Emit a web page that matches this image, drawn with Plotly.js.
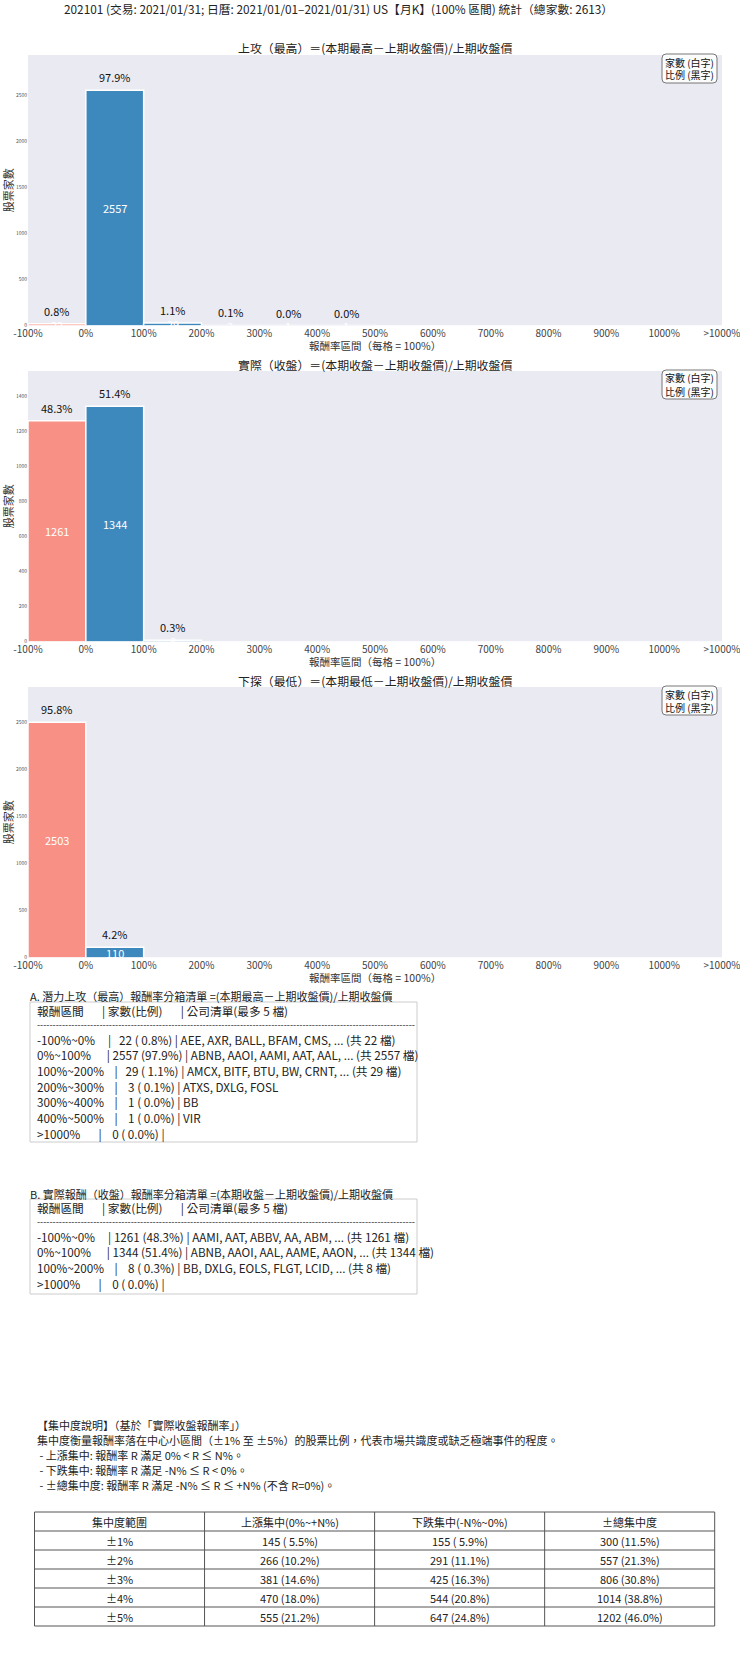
<!DOCTYPE html>
<html><head><meta charset="utf-8">
<script src="https://cdn.plot.ly/plotly-3.0.1.min.js"></script>
<style>body{margin:0;padding:0;background:#fff}#chart{width:740px;height:1655px}</style>
</head><body><div id="chart"></div>
<script>
// ---------------- DATA ----------------
const TOTAL = 2613;
const mainTitle = '202101 (交易: 2021/01/31; 日曆: 2021/01/01–2021/01/31) US【月K】(100% 區間) 統計（總家數: 2613）';
const binLabels = ['-100%','0%','100%','200%','300%','400%','500%','600%','700%','800%','900%','1000%','>1000%'];
const highCounts  = [22, 2557, 29, 3, 1, 1, 0, 0, 0, 0, 0, 0];
const closeCounts = [1261, 1344, 8, 0, 0, 0, 0, 0, 0, 0, 0, 0];
const lowCounts   = [2503, 110, 0, 0, 0, 0, 0, 0, 0, 0, 0, 0];
const chartTitles = [
  '上攻（最高）＝(本期最高－上期收盤價)/上期收盤價',
  '實際（收盤）＝(本期收盤－上期收盤價)/上期收盤價',
  '下探（最低）＝(本期最低－上期收盤價)/上期收盤價'
];
const xTitle = '報酬率區間（每格 = 100%）';
const yTitle = '股票家數';
const legendText = ['家數 (白字)', '比例 (黑字)'];

const listATitle = 'A. 潛力上攻（最高）報酬率分箱清單 =(本期最高－上期收盤價)/上期收盤價';
const listALines = [
  '報酬區間       | 家數(比例)       | 公司清單(最多 5 檔)',
  '-100%~0%     |   22 ( 0.8%) | AEE, AXR, BALL, BFAM, CMS, ... (共 22 檔)',
  '0%~100%      | 2557 (97.9%) | ABNB, AAOI, AAMI, AAT, AAL, ... (共 2557 檔)',
  '100%~200%    |   29 ( 1.1%) | AMCX, BITF, BTU, BW, CRNT, ... (共 29 檔)',
  '200%~300%    |    3 ( 0.1%) | ATXS, DXLG, FOSL',
  '300%~400%    |    1 ( 0.0%) | BB',
  '400%~500%    |    1 ( 0.0%) | VIR',
  '>1000%       |    0 ( 0.0%) |'
];
const listBTitle = 'B. 實際報酬（收盤）報酬率分箱清單 =(本期收盤－上期收盤價)/上期收盤價';
const listBLines = [
  '報酬區間       | 家數(比例)       | 公司清單(最多 5 檔)',
  '-100%~0%     | 1261 (48.3%) | AAMI, AAT, ABBV, AA, ABM, ... (共 1261 檔)',
  '0%~100%      | 1344 (51.4%) | ABNB, AAOI, AAL, AAME, AAON, ... (共 1344 檔)',
  '100%~200%    |    8 ( 0.3%) | BB, DXLG, EOLS, FLGT, LCID, ... (共 8 檔)',
  '>1000%       |    0 ( 0.0%) |'
];
const concText = [
  '【集中度說明】（基於「實際收盤報酬率」）',
  '集中度衡量報酬率落在中心小區間（±1% 至 ±5%）的股票比例，代表市場共識度或缺乏極端事件的程度。',
  ' - 上漲集中: 報酬率 R 滿足 0% < R ≤ N%。',
  ' - 下跌集中: 報酬率 R 滿足 -N% ≤ R < 0%。',
  ' - ±總集中度: 報酬率 R 滿足 -N% ≤ R ≤ +N% (不含 R=0%)。'
];
const concHeaders = ['集中度範圍', '上漲集中(0%~+N%)', '下跌集中(-N%~0%)', '±總集中度'];
const concRanges = ['±1%', '±2%', '±3%', '±4%', '±5%'];
const upCounts = [145, 266, 381, 470, 555];
const upPct = [5.5, 10.2, 14.6, 18.0, 21.2];
const downCounts = [155, 291, 425, 544, 647];
const downPct = [5.9, 11.1, 16.3, 20.8, 24.8];
const totCounts = [300, 557, 806, 1014, 1202];
const totPct = [11.5, 21.3, 30.8, 38.8, 46.0];

// ---------------- LAYOUT HELPERS ----------------
const W = 740, H = 1655;
const FONT = '"Noto Sans CJK TC", "Noto Sans", sans-serif';
const px = x => x / W;
const py = y => 1 - y / H;
const BLUE = 'rgba(31,119,180,0.85)';
const SALMON = 'rgba(250,128,114,0.85)';

const plotLeft = 28, plotRight = 722, plotH = 270.7;
const plotTops = [55, 371, 687];
const datasets = [highCounts, closeCounts, lowCounts];
const yDtick = [500, 200, 500];

const traces = [];
const annotations = [];
const shapes = [];
const layout = {
  width: W, height: H, margin: {l: 0, r: 0, t: 0, b: 0},
  paper_bgcolor: '#fff', plot_bgcolor: '#EAEAF2',
  showlegend: false, font: {family: FONT, color: '#222'},
  annotations, shapes
};

annotations.push({text: mainTitle, xref: 'paper', yref: 'paper', x: px(338), y: py(9),
  xanchor: 'center', yanchor: 'middle', showarrow: false, font: {size: 11.8, color: '#222'}});

datasets.forEach((counts, k) => {
  const idx = k === 0 ? '' : String(k + 1);
  const xa = 'x' + idx, ya = 'y' + idx;
  const top = plotTops[k], bottom = top + plotH;
  const maxV = Math.max(...counts);
  const yMax = maxV * 1.15;
  const centers = counts.map((_, i) => i + 0.5);
  traces.push({
    type: 'bar', x: centers, y: counts, width: 1, xaxis: xa, yaxis: ya,
    marker: {color: counts.map((_, i) => i === 0 ? SALMON : BLUE), line: {color: '#fff', width: 1.5}},
    hoverinfo: 'skip'
  });
  const ticks = [];
  for (let v = 0; v <= yMax; v += yDtick[k]) ticks.push(v);
  layout['xaxis' + idx] = {
    domain: [px(plotLeft), px(plotRight)], range: [0, 12], anchor: ya,
    tickvals: binLabels.map((_, i) => i), ticktext: binLabels, ticklabeloverflow: 'allow',
    tickfont: {size: 10, color: '#444'}, showgrid: false, zeroline: false, showline: false, ticks: ''
  };
  layout['yaxis' + idx] = {
    domain: [py(bottom), py(top)], range: [0, yMax], anchor: xa,
    tickvals: ticks, tickfont: {size: 5, color: '#555'},
    showgrid: false, zeroline: false, showline: false, ticks: ''
  };
  counts.forEach((c, i) => {
    if (c <= 0) return;
    annotations.push({text: (c / TOTAL * 100).toFixed(1) + '%', xref: xa, yref: ya, x: i + 0.5, y: c,
      yanchor: 'bottom', yshift: 3, showarrow: false, font: {size: 11, color: '#111'}});
    annotations.push({text: String(c), xref: xa, yref: ya, x: i + 0.5, y: c / 2,
      yanchor: 'middle', showarrow: false, font: {size: 11, color: '#fff'}});
  });
  annotations.push({text: chartTitles[k], xref: 'paper', yref: 'paper', x: px((plotLeft + plotRight) / 2), y: py(top - 7),
    xanchor: 'center', yanchor: 'middle', showarrow: false, font: {size: 11.9, color: '#222'}});
  annotations.push({text: xTitle, xref: 'paper', yref: 'paper', x: px((plotLeft + plotRight) / 2), y: py(bottom + 19.5),
    xanchor: 'center', yanchor: 'middle', showarrow: false, font: {size: 10.5, color: '#333'}});
  annotations.push({text: yTitle, xref: 'paper', yref: 'paper', x: px(8), y: py(top + plotH / 2),
    xanchor: 'center', yanchor: 'middle', textangle: -90, showarrow: false, font: {size: 11, color: '#333'}});
  // legend box (rounded)
  const bx0 = 662, bx1 = 717, by0 = top - 1, by1 = top + 28, r = 4;
  const X = v => px(v), Y = v => py(v);
  shapes.push({type: 'path', xref: 'paper', yref: 'paper',
    path: `M ${X(bx0 + r)} ${Y(by0)} L ${X(bx1 - r)} ${Y(by0)} Q ${X(bx1)} ${Y(by0)} ${X(bx1)} ${Y(by0 + r)} L ${X(bx1)} ${Y(by1 - r)} Q ${X(bx1)} ${Y(by1)} ${X(bx1 - r)} ${Y(by1)} L ${X(bx0 + r)} ${Y(by1)} Q ${X(bx0)} ${Y(by1)} ${X(bx0)} ${Y(by1 - r)} L ${X(bx0)} ${Y(by0 + r)} Q ${X(bx0)} ${Y(by0)} ${X(bx0 + r)} ${Y(by0)} Z`,
    line: {color: '#777', width: 1}, fillcolor: 'rgba(255,255,255,0.85)'});
  legendText.forEach((t, j) => {
    annotations.push({text: t, xref: 'paper', yref: 'paper', x: px((bx0 + bx1) / 2), y: py(top + 7 + j * 13),
      xanchor: 'center', yanchor: 'middle', showarrow: false, font: {size: 10, color: '#111'}});
  });
});

// ---------------- TEXT LISTS ----------------
function addText(t, x, y, size, color) {
  annotations.push({text: t, xref: 'paper', yref: 'paper', x: px(x), y: py(y),
    xanchor: 'left', yanchor: 'middle', showarrow: false, align: 'left',
    font: {size: size || 11, color: color || '#222'}});
}
function listBlock(title, lines, titleY, boxTop, boxBottom) {
  addText(title, 28, titleY, 11);
  shapes.push({type: 'rect', xref: 'paper', yref: 'paper', x0: px(30), x1: px(417), y0: py(boxTop), y1: py(boxBottom),
    line: {color: '#cccccc', width: 1}, fillcolor: 'rgba(0,0,0,0)'});
  addText(lines[0].replace(/ /g, '&nbsp;'), 35, boxTop + 9, 11.7);
  addText('-'.repeat(121), 35, boxTop + 22, 9);
  for (let i = 1; i < lines.length; i++) {
    addText(lines[i].replace(/ /g, '&nbsp;'), 35, boxTop + 22 + i * 15.65, 11.7);
  }
}
listBlock(listATitle, listALines, 996, 1002, 1142);
listBlock(listBTitle, listBLines, 1194, 1199, 1294);

concText.forEach((t, i) => addText(t.replace(/ /g, '&nbsp;'), 35, 1425 + i * 15, 11));

// ---------------- TABLE ----------------
const tL = 34.5, tR = 714.7, tTop = 1512, rowH = 19.0;
const colW = (tR - tL) / 4;
const rows = [concHeaders];
const fmt = (n, p) => `${n} (${p < 10 ? '&nbsp;' : ''}${p.toFixed(1)}%)`;
concRanges.forEach((r, i) => rows.push([r, fmt(upCounts[i], upPct[i]), fmt(downCounts[i], downPct[i]), fmt(totCounts[i], totPct[i])]));
const tBottom = tTop + rowH * rows.length;
shapes.push({type: 'rect', xref: 'paper', yref: 'paper', x0: px(tL), x1: px(tR), y0: py(tBottom), y1: py(tTop),
  line: {color: '#555', width: 1}});
for (let i = 1; i < rows.length; i++) {
  shapes.push({type: 'line', xref: 'paper', yref: 'paper', x0: px(tL), x1: px(tR), y0: py(tTop + i * rowH), y1: py(tTop + i * rowH),
    line: {color: '#555', width: 1}});
}
for (let j = 1; j < 4; j++) {
  shapes.push({type: 'line', xref: 'paper', yref: 'paper', x0: px(tL + j * colW), x1: px(tL + j * colW), y0: py(tBottom), y1: py(tTop),
    line: {color: '#555', width: 1}});
}
rows.forEach((row, i) => row.forEach((cell, j) => {
  annotations.push({text: cell, xref: 'paper', yref: 'paper', x: px(tL + (j + 0.5) * colW), y: py(tTop + (i + 0.5) * rowH),
    xanchor: 'center', yanchor: 'middle', showarrow: false, font: {size: 11, color: '#222'}});
}));

Plotly.newPlot('chart', traces, layout, {staticPlot: true, displayModeBar: false});
</script>
</body></html>
